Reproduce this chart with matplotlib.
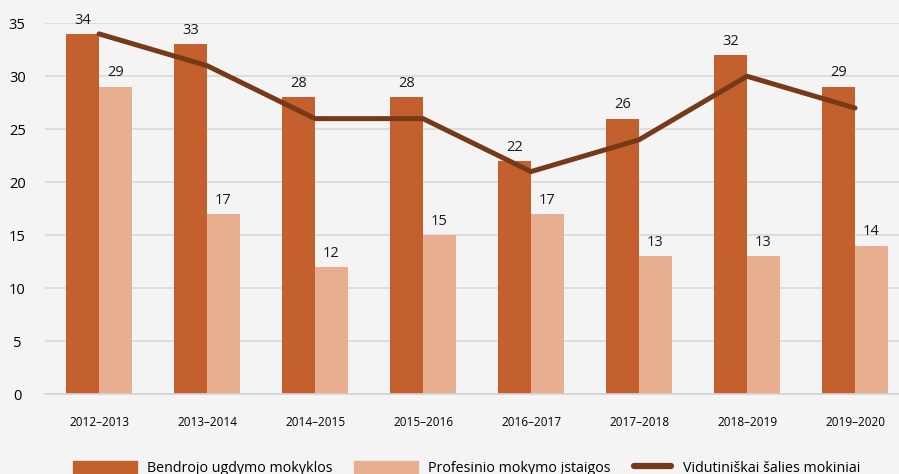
import matplotlib
matplotlib.use("Agg")
import matplotlib.pyplot as plt
import numpy as np
from matplotlib.lines import Line2D
from matplotlib.patches import Patch

categories = ["2012–2013", "2013–2014", "2014–2015", "2015–2016",
              "2016–2017", "2017–2018", "2018–2019", "2019–2020"]
bendrojo = [34, 33, 28, 28, 22, 26, 32, 29]
profesinio = [29, 17, 12, 15, 17, 13, 13, 14]
vidutiniskai = [34, 31, 26, 26, 21, 24, 30, 27]
yticks = [0, 5, 10, 15, 20, 25, 30, 35]

c_dark = "#c4602d"
c_light = "#e8ae90"
c_line = "#773a18"
bg = "#f4f4f4"

plt.rcParams['font.family'] = ['Open Sans', 'DejaVu Sans']

W, H = 899, 474
fig = plt.figure(figsize=(W/100, H/100), dpi=100, facecolor=bg)
ax = fig.add_axes([45/W, 80/H, 1 - 45/W, (394-23.3)/H])
ax.set_facecolor(bg)

x = np.arange(len(categories))
w = 0.305
ax.bar(x - w/2, bendrojo, w, color=c_dark, zorder=2)
ax.bar(x + w/2, profesinio, w, color=c_light, zorder=2)
ax.plot(x, vidutiniskai, color=c_line, lw=3.6, solid_capstyle='round',
        solid_joinstyle='round', zorder=3)

for xi, v in zip(x - w/2, bendrojo):
    ax.text(xi, v + 0.6, str(v), ha='center', va='bottom', fontsize=10.5, color='#1a1a1a')
for xi, v in zip(x + w/2, profesinio):
    ax.text(xi, v + 0.6, str(v), ha='center', va='bottom', fontsize=10.5, color='#1a1a1a')

ax.set_ylim(0, 35)
ax.set_xlim(-0.5, 7.5 - 10/108)
ax.set_yticks(yticks)
ax.set_yticklabels([str(t) for t in yticks], fontsize=10.5)
ax.set_xticks(x)
ax.set_xticklabels(categories, fontsize=8.5)
ax.yaxis.grid(True, color='#d9d9d9', lw=1.2, zorder=0)
ax.set_axisbelow(True)
for s in ['left', 'right', 'top']:
    ax.spines[s].set_visible(False)
ax.spines['bottom'].set_color('#d4d4d4')
ax.spines['bottom'].set_linewidth(1.2)
ax.tick_params(axis='both', length=0)
ax.tick_params(axis='x', pad=16)
ax.tick_params(axis='y', pad=20)
for lab in ax.get_yticklabels():
    lab.set_horizontalalignment('center')

fs = 10.3
fs_px = fs * 100 / 72
patch_handles = [Patch(color=c_dark, label="Bendrojo ugdymo mokyklos"),
                 Patch(color=c_light, label="Profesinio mokymo įstaigos")]
line_handles = [Line2D([0], [0], color=c_line, lw=4.5, solid_capstyle='round',
                       label="Vidutiniškai šalies mokiniai")]
ly = 6/H
leg1 = fig.legend(handles=patch_handles, loc='center left', bbox_to_anchor=(73/W, ly),
                  ncol=2, frameon=False, fontsize=fs, handlelength=64/fs_px,
                  handleheight=0.9, columnspacing=21/fs_px, handletextpad=10/fs_px,
                  borderpad=0, borderaxespad=0)
leg2 = fig.legend(handles=line_handles, loc='center left', bbox_to_anchor=(634/W, ly),
                  ncol=1, frameon=False, fontsize=fs, handlelength=37/fs_px,
                  handleheight=0.9, handletextpad=12/fs_px,
                  borderpad=0, borderaxespad=0)

fig.savefig("out.png", dpi=100, facecolor=bg)
